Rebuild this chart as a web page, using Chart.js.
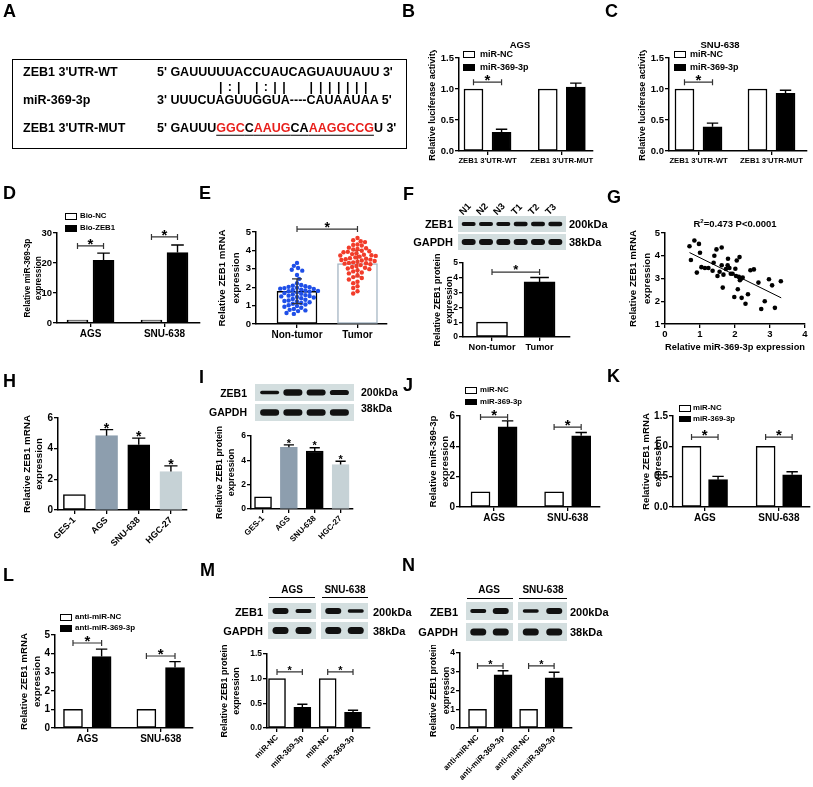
<!DOCTYPE html>
<html>
<head>
<meta charset="utf-8">
<title>ZEB1 / miR-369-3p</title>
<script src="https://cdn.jsdelivr.net/npm/chart.js@4.4.1/dist/chart.umd.min.js"></script>
<style>
  html, body { margin: 0; padding: 0; background: #fff; }
  #fig { position: relative; width: 813px; height: 787px; overflow: hidden;
         font-family: 'Liberation Sans', Arial, sans-serif; font-weight: bold; color: #000; }
  #fig canvas { position: absolute; }
  .t { position: absolute; white-space: pre; line-height: 1; }
  .lg { position: absolute; border: 1.3px solid #000; box-sizing: border-box; }
  .ln { position: absolute; background: #000; height: 1.2px; }
</style>
</head>
<body>
<div id="fig"></div>
<script>
// ---------------- data ----------------
// A: sequences
var wtSeq = "GAUUUUUACCUAUCAGUAUUAUU";
var pairing = "     |:| |:||  |||||||";
var mirSeq = "UUUCUAGUUGGUA----CAUAAUAA";

// B, C: luciferase
var lucGroups = ["ZEB1 3'UTR-WT", "ZEB1 3'UTR-MUT"];
var agsLucNC = [1.0, 1.0];
var agsLucMiR = [0.30, 1.03];
var agsLucErr = [0.05, 0.065];
var snuLucNC = [1.0, 1.0];
var snuLucMiR = [0.39, 0.93];
var snuLucErr = [0.06, 0.05];

// D: biotin pull-down
var cellGroups = ["AGS", "SNU-638"];
var bioNC = [1.0, 1.0];
var bioZEB1 = [20.9, 23.5];
var bioZEB1Err = [2.4, 2.5];

// E: tissues
var tissueGroups = ["Non-tumor", "Tumor"];
var tissueMean = [1.78, 3.28];
var tissueSD = [0.67, 0.72];
var nonTumorVals = [3.32, 3.16, 3.04, 2.95, 2.9, 2.66, 2.45, 2.22, 2.12, 2.08, 2.05, 2.02,
  2.0, 1.97, 1.95, 1.92, 1.9, 1.87, 1.85, 1.82, 1.8, 1.78, 1.75, 1.72, 1.68, 1.64, 1.6,
  1.57, 1.54, 1.52, 1.5, 1.47, 1.44, 1.4, 1.36, 1.32, 1.28, 1.25, 1.22, 1.18, 1.14, 1.1,
  1.06, 1.02, 0.98, 0.94, 0.88, 0.82, 0.77, 0.74, 0.7, 0.6, 0.55];
var tumorVals = [4.67, 4.55, 4.5, 4.45, 4.32, 4.3, 4.27, 4.15, 4.12, 4.08, 4.05, 3.98, 3.95,
  3.92, 3.9, 3.85, 3.8, 3.76, 3.74, 3.72, 3.7, 3.66, 3.62, 3.58, 3.55, 3.52, 3.5, 3.48, 3.45,
  3.42, 3.38, 3.35, 3.32, 3.3, 3.28, 3.25, 3.2, 3.15, 3.1, 3.06, 3.02, 2.98, 2.92, 2.86, 2.8,
  2.75, 2.65, 2.55, 2.5, 2.42, 2.3, 2.22, 2.05, 1.96, 1.78, 1.66];

// F: tissue western blot
var fLanes = ["N1", "N2", "N3", "T1", "T2", "T3"];
var fZeb1Band = [0.85, 0.85, 0.85, 1, 1, 1];
var fGapdhBand = [1, 1, 1, 1, 1, 1];
var fProtein = [1.0, 3.72];
var fProteinErr = [0, 0.3];

// G: correlation
var corrMiR = [0.70, 0.84, 0.97, 0.74, 1.0, 0.91, 1.04, 1.14, 1.24, 1.36, 1.41, 1.47, 1.62, 1.39,
  1.50, 1.56, 1.62, 1.74, 1.67, 1.80, 1.79, 1.84, 1.88, 1.93, 2.01, 2.05, 2.13, 2.03, 2.11,
  2.17, 2.22, 2.14, 1.65, 1.98, 2.08, 2.19, 2.30, 2.37, 2.44, 2.54, 2.67, 2.75, 2.85, 2.97,
  3.06, 3.14, 3.31];
var corrZEB1 = [4.42, 4.67, 4.52, 3.81, 4.13, 3.26, 3.50, 3.46, 3.46, 3.34, 4.0, 4.28, 4.36, 3.69,
  3.11, 3.30, 3.58, 3.42, 3.17, 3.87, 3.58, 3.46, 3.21, 3.21, 3.43, 3.79, 3.94, 3.11, 3.07,
  2.99, 3.04, 2.92, 2.60, 2.19, 2.53, 2.15, 1.89, 2.31, 3.36, 3.40, 2.82, 1.66, 2.00, 2.97,
  2.70, 1.71, 2.88];
var corrFit = [[0.70, 4.14], [3.32, 2.15]];

// H, I: cell lines
var cellLines = ["GES-1", "AGS", "SNU-638", "HGC-27"];
var hMRNA = [1.0, 4.85, 4.25, 2.51];
var hErr = [0, 0.39, 0.44, 0.37];
var iZeb1Band = [0.55, 1, 0.9, 0.8];
var iGapdhBand = [1, 1, 1, 1];
var iProtein = [1.0, 5.07, 4.77, 3.65];
var iErr = [0, 0.2, 0.27, 0.27];

// J, K, L
var jNC = [1.0, 1.0];
var jMiR = [5.28, 4.69];
var jErr = [0.4, 0.22];
var kNC = [1.0, 1.0];
var kMiR = [0.45, 0.53];
var kErr = [0.055, 0.05];
var lNC = [1.0, 1.0];
var lAnti = [3.84, 3.25];
var lErr = [0.4, 0.32];

// M, N
var mLabels = ["miR-NC", "miR-369-3p", "miR-NC", "miR-369-3p"];
var mZeb1Band = [[1, 0.65], [1, 0.55]];
var mGapdhBand = [[1, 1], [1, 1]];
var mProtein = [1.0, 0.42, 1.0, 0.32];
var mErr = [0, 0.06, 0, 0.04];
var nLabels = ["anti-miR-NC", "anti-miR-369-3p", "anti-miR-NC", "anti-miR-369-3p"];
var nZeb1Band = [[0.65, 1], [0.6, 1]];
var nGapdhBand = [[1, 1], [1, 1]];
var nProtein = [1.0, 2.83, 1.0, 2.68];
var nErr = [0, 0.22, 0, 0.29];

// ---------------- helpers ----------------
var fig = document.getElementById("fig");
var FONT = "'Liberation Sans', Arial, sans-serif";
Chart.defaults.font.family = FONT;
Chart.defaults.font.weight = "bold";
Chart.defaults.color = "#000";

function txt(x, y, s, size, align, html) {
  var d = document.createElement("div");
  d.className = "t";
  d.style.left = x + "px";
  d.style.top = y + "px";
  d.style.fontSize = size + "px";
  var dx = align === "right" ? "-100%" : align === "center" ? "-50%" : "0";
  d.style.transform = "translate(" + dx + ",-50%)";
  if (html) d.innerHTML = s; else d.textContent = s;
  fig.appendChild(d);
  return d;
}
function hline(x1, x2, y) {
  var d = document.createElement("div");
  d.className = "ln";
  d.style.left = x1 + "px"; d.style.top = y + "px"; d.style.width = (x2 - x1) + "px";
  fig.appendChild(d);
}
function legend(x, y0, dy, items, size, tx) {
  items.forEach(function (it, i) {
    var y = y0 + i * dy;
    var b = document.createElement("div");
    b.className = "lg";
    b.style.left = x + "px"; b.style.top = (y - 3) + "px";
    b.style.width = "12px"; b.style.height = "6.5px";
    b.style.background = it[0];
    fig.appendChild(b);
    txt(tx, y, it[1], size, "left");
  });
}
function mkCanvas(l, t, r, b) {
  l = Math.round(l); t = Math.round(t); r = Math.round(r); b = Math.round(b);
  var c = document.createElement("canvas");
  c.width = r - l; c.height = b - t;
  c.style.left = l + "px"; c.style.top = t + "px";
  c.style.width = (r - l) + "px"; c.style.height = (b - t) + "px";
  fig.appendChild(c);
  return { c: c, l: l, t: t, r: r, b: b };
}
function off(groups, d) { return groups.map(function (_, i) { return i + d; }); }

// beeswarm so dots don't overlap (pixel space -> axis units)
function swarm(vals, pxY, pxX, dia) {
  var placed = [];
  return vals.map(function (v, n) {
    var y = v * pxY;
    for (var k = 0; k < 80; k++) {
      var signs = k ? (n % 2 ? [-1, 1] : [1, -1]) : [1];
      for (var q = 0; q < signs.length; q++) {
        var x = signs[q] * k * dia / 4;
        var ok = placed.every(function (p) { return Math.hypot(p.x - x, p.y - y) >= dia; });
        if (ok) { placed.push({ x: x, y: y }); return x / pxX; }
      }
    }
    return 0;
  });
}

function drawStar(ctx, x, yb, size) {
  ctx.save();
  ctx.fillStyle = "#000";
  ctx.font = "bold " + size + "px " + FONT;
  ctx.textAlign = "center";
  ctx.textBaseline = "alphabetic";
  ctx.fillText("*", x, yb + size * 0.42);
  ctx.restore();
}

// error bars, significance brackets, stars
var marks = {
  id: "marks",
  afterDraw: function (chart) {
    var opt = chart.options.plugins.marks || {};
    var ctx = chart.ctx, xs = chart.scales.x, ys = chart.scales.y;
    var ss = opt.star || 12;
    ctx.save();
    chart.data.datasets.forEach(function (ds, i) {
      if (!ds.errs) return;
      chart.getDatasetMeta(i).data.forEach(function (el, j) {
        var e = ds.errs[j];
        if (!e) return;
        var v = ds.data[j].y;
        var top = ys.getPixelForValue(v + e);
        var low = ds.both ? ys.getPixelForValue(v - e) : el.y;
        var cw = ds.cap || el.width * 0.3;
        ctx.strokeStyle = Array.isArray(ds.errColor) ? ds.errColor[j] : (ds.errColor || "#000");
        ctx.lineWidth = 1.4;
        ctx.beginPath();
        ctx.moveTo(el.x, low); ctx.lineTo(el.x, top);
        ctx.moveTo(el.x - cw, top); ctx.lineTo(el.x + cw, top);
        if (ds.both) { ctx.moveTo(el.x - cw, low); ctx.lineTo(el.x + cw, low); }
        ctx.stroke();
        if (ds.stars) drawStar(ctx, el.x, top - 3, ss);
      });
    });
    (opt.brackets || []).forEach(function (b) {
      var x1 = xs.getPixelForValue(b[0]), x2 = xs.getPixelForValue(b[1]), y = ys.getPixelForValue(b[2]);
      ctx.strokeStyle = "#333";
      ctx.lineWidth = 1.2;
      ctx.beginPath();
      ctx.moveTo(x1, y); ctx.lineTo(x2, y);
      ctx.moveTo(x1, y - 3); ctx.lineTo(x1, y + 3);
      ctx.moveTo(x2, y - 3); ctx.lineTo(x2, y + 3);
      ctx.stroke();
      drawStar(ctx, (x1 + x2) / 2, y - 3, ss);
    });
    ctx.restore();
  }
};

function barSet(vals, pos, fill, stroke, bw, errs, extra) {
  return Object.assign({
    type: "bar",
    data: vals.map(function (v, i) { return { x: pos[i], y: v }; }),
    backgroundColor: fill, borderColor: stroke, borderWidth: 1.5, borderSkipped: false,
    barThickness: bw, grouped: false, errs: errs, order: 1
  }, extra || {});
}

function axisGrid() {
  return { drawOnChartArea: false, offset: false, tickLength: 4, color: "#000", lineWidth: 1.3 };
}

function barChart(p) {
  var cv = mkCanvas(p.tx - p.lh / 2, p.top, p.right, p.bottom);
  var al = p.area[0], at = p.area[1], ar = p.area[2], ab = p.area[3];
  var yW = al - cv.l, xH = cv.b - ab;
  return new Chart(cv.c, {
    type: "bar",
    data: { datasets: p.datasets },
    options: {
      responsive: false, animation: false, devicePixelRatio: 1,
      layout: { padding: { top: at - cv.t, right: cv.r - ar, left: 0, bottom: 0 } },
      plugins: { legend: { display: false }, tooltip: { enabled: false },
                 marks: { brackets: p.brackets || [], star: p.star } },
      scales: {
        x: {
          type: "linear", min: p.xr[0], max: p.xr[1], offset: false, bounds: "data",
          grid: axisGrid(),
          border: { color: "#000", width: 1.5 },
          ticks: { autoSkip: false, padding: 1, font: { size: p.f.x, weight: "bold" }, color: "#000",
                   maxRotation: p.rot ? 45 : 0, minRotation: p.rot ? 45 : 0,
                   callback: function (v, i) { return p.labels[i]; } },
          afterBuildTicks: function (s) { s.ticks = p.ticksAt.map(function (v) { return { value: v }; }); },
          afterFit: function (s) { s.height = xH; }
        },
        y: {
          min: p.y[0], max: p.y[1], bounds: "data",
          ticks: { stepSize: p.y[2], padding: 1, font: { size: p.f.tick, weight: "bold" }, color: "#000",
                   callback: function (v) { return v.toFixed(p.y[3] || 0); } },
          grid: axisGrid(),
          border: { color: "#000", width: 1.5 },
          title: { display: true, text: p.title, color: "#000", padding: 0,
                   font: { size: p.f.title, weight: "bold", lineHeight: p.lh + "px" } },
          afterFit: function (s) { s.width = yW; }
        }
      }
    },
    plugins: [marks]
  });
}

// ---------------- western blots (drawn first, underneath) ----------------
var blot = mkCanvas(0, 0, 813, 787);
var bctx = blot.c.getContext("2d");
function strip(x, y, w, h, bands, bw, bh, pad) {
  bctx.fillStyle = "#d3dedf";
  bctx.fillRect(x, y, w, h);
  var step = (w - 2 * pad) / bands.length;
  bands.forEach(function (k, i) {
    var cx = x + pad + step * (i + 0.5), cy = y + h / 2, hh = bh * k;
    bctx.save();
    bctx.filter = "blur(0.7px)";
    bctx.fillStyle = "#111";
    bctx.beginPath();
    bctx.roundRect(cx - bw / 2, cy - hh / 2, bw, hh, hh / 2);
    bctx.fill();
    bctx.restore();
  });
}
strip(458, 216, 108, 16, fZeb1Band, 14, 4.5, 2);
strip(458, 234, 108, 16, fGapdhBand, 14, 6, 2);
strip(255, 384, 99, 17, iZeb1Band, 19, 6.5, 3);
strip(255, 404, 99, 17, iGapdhBand, 19, 6.5, 3);
strip(268, 603, 48, 16, mZeb1Band[0], 16, 6, 1);
strip(321, 603, 47, 16, mZeb1Band[1], 16, 6, 1);
strip(268, 622, 48, 17, mGapdhBand[0], 16, 7, 1);
strip(321, 622, 47, 17, mGapdhBand[1], 16, 7, 1);
strip(466, 602, 47, 18, nZeb1Band[0], 16, 6, 1);
strip(518, 602, 49, 18, nZeb1Band[1], 16, 6, 1);
strip(466, 623, 47, 18, nGapdhBand[0], 16, 7, 1);
strip(518, 623, 49, 18, nGapdhBand[1], 16, 7, 1);

// ---------------- B ----------------
barChart({
  area: [459, 58, 593, 151], tx: 432, lh: 11, top: 50, bottom: 168, right: 600,
  xr: [-0.384, 1.42], ticksAt: [0, 1], labels: lucGroups,
  datasets: [
    barSet(agsLucNC, off(lucGroups, -0.189), "#fff", "#000", 19),
    barSet(agsLucMiR, off(lucGroups, 0.189), "#000", "#000", 19, agsLucErr)
  ],
  y: [0, 1.5, 0.5, 1], f: { tick: 9.5, x: 7.7, title: 9 }, title: "Relative luciferase activity",
  brackets: [[-0.189, 0.189, 1.11]], star: 15
});
// ---------------- C ----------------
barChart({
  area: [669, 58, 807, 151], tx: 642, lh: 11, top: 50, bottom: 168, right: 813,
  xr: [-0.404, 1.486], ticksAt: [0, 1], labels: lucGroups,
  datasets: [
    barSet(snuLucNC, off(lucGroups, -0.192), "#fff", "#000", 19),
    barSet(snuLucMiR, off(lucGroups, 0.192), "#000", "#000", 19, snuLucErr)
  ],
  y: [0, 1.5, 0.5, 1], f: { tick: 9.5, x: 7.7, title: 9 }, title: "Relative luciferase activity",
  brackets: [[-0.192, 0.192, 1.11]], star: 15
});
// ---------------- D ----------------
barChart({
  area: [57, 233, 200, 323], tx: 27, lh: 11, top: 222, bottom: 342, right: 206,
  xr: [-0.453, 1.48], ticksAt: [0, 1], labels: cellGroups,
  datasets: [
    barSet(bioNC, off(cellGroups, -0.176), "#fff", "#000", 21),
    barSet(bioZEB1, off(cellGroups, 0.176), "#000", "#000", 21, bioZEB1Err)
  ],
  y: [0, 30, 10, 0], f: { tick: 9.5, x: 10, title: 8.3 }, title: ["Relative miR-369-3p", "expression"],
  brackets: [[-0.176, 0.176, 25.7], [0.824, 1.176, 28.7]], star: 15
});
// ---------------- E ----------------
var eArea = [256, 232, 387, 324], eXr = [-0.678, 1.488], eY = [0, 5, 1, 0];
var ePxY = (eArea[3] - eArea[1]) / (eY[1] - eY[0]);
var ePxX = (eArea[2] - eArea[0]) / (eXr[1] - eXr[0]);
var ntJit = swarm(nonTumorVals, ePxY, ePxX, 4.2);
var tJit = swarm(tumorVals, ePxY, ePxX, 4.3);
barChart({
  area: eArea, tx: 222, lh: 14, top: 212, bottom: 342, right: 395,
  xr: eXr, ticksAt: [0, 1], labels: tissueGroups,
  datasets: [
    barSet(tissueMean, [0, 1], ["#fff", "#fff"], ["#000", "#a9b9c6"], 40, tissueSD,
      { both: true, cap: 5, errColor: ["#333", "#e0402e"] }),
    { type: "scatter", order: 0, pointRadius: 2.2, borderWidth: 0, backgroundColor: "#1f4fe8",
      data: nonTumorVals.map(function (v, i) { return { x: 0 + ntJit[i], y: v }; }) },
    { type: "scatter", order: 0, pointRadius: 2.2, borderWidth: 0, backgroundColor: "#f23c2a",
      data: tumorVals.map(function (v, i) { return { x: 1 + tJit[i], y: v }; }) }
  ],
  y: eY, f: { tick: 9.5, x: 10, title: 9.7 }, title: ["Relative ZEB1 mRNA", "expression"],
  brackets: [[0, 1, 5.16]], star: 14
});
// ---------------- F ----------------
barChart({
  area: [463, 263, 570, 337], tx: 438, lh: 12, top: 252, bottom: 355, right: 580,
  xr: [-0.61, 1.64], ticksAt: [0, 1], labels: tissueGroups,
  datasets: [barSet(fProtein, [0, 1], ["#fff", "#000"], "#000", 31, fProteinErr)],
  y: [0, 5, 1, 0], f: { tick: 8.5, x: 9.2, title: 9 }, title: ["Relative ZEB1 protein", "expression"],
  brackets: [[0, 1, 4.39]], star: 13
});
// ---------------- G ----------------
var gCv = mkCanvas(626, 225, 813, 353);
new Chart(gCv.c, {
  type: "scatter",
  data: { datasets: [
    { data: corrMiR.map(function (x, i) { return { x: x, y: corrZEB1[i] }; }),
      backgroundColor: "#000", borderWidth: 0, pointRadius: 2.3 },
    { type: "line", data: corrFit.map(function (p) { return { x: p[0], y: p[1] }; }),
      borderColor: "#000", borderWidth: 1, pointRadius: 0, fill: false }
  ] },
  options: {
    responsive: false, animation: false, devicePixelRatio: 1,
    layout: { padding: { top: 233 - 225, right: 813 - 805, left: 0, bottom: 0 } },
    plugins: { legend: { display: false }, tooltip: { enabled: false } },
    scales: {
      x: { min: 0, max: 4, ticks: { stepSize: 1, padding: 1, font: { size: 9.5, weight: "bold" }, color: "#000" },
           grid: axisGrid(), border: { color: "#000", width: 1.5 },
           title: { display: true, text: "Relative miR-369-3p expression", color: "#000", padding: 0,
                    font: { size: 9.3, weight: "bold", lineHeight: "11px" } },
           afterFit: function (s) { s.height = 353 - 324; } },
      y: { min: 1, max: 5, ticks: { stepSize: 1, padding: 1, font: { size: 9.5, weight: "bold" }, color: "#000" },
           grid: axisGrid(), border: { color: "#000", width: 1.5 },
           title: { display: true, text: ["Relative ZEB1 mRNA", "expression"], color: "#000", padding: 0,
                    font: { size: 9.7, weight: "bold", lineHeight: "14px" } },
           afterFit: function (s) { s.width = 665 - 626; } }
    }
  }
});
// ---------------- H ----------------
barChart({
  area: [58, 418, 187, 510], tx: 27, lh: 12, top: 405, bottom: 560, right: 195,
  xr: [-0.51, 3.5], ticksAt: [0, 1, 2, 3], labels: cellLines, rot: true,
  datasets: [barSet(hMRNA, [0, 1, 2, 3], ["#fff", "#8d9eae", "#000", "#c6d2d6"],
    ["#000", "#8d9eae", "#000", "#c6d2d6"], 22, hErr, { stars: true })],
  y: [0, 6, 2, 0], f: { tick: 10, x: 9, title: 9.8 }, title: ["Relative ZEB1 mRNA", "expression"], star: 14
});
// ---------------- I ----------------
barChart({
  area: [251, 436, 353, 509], tx: 220, lh: 12, top: 425, bottom: 555, right: 360,
  xr: [-0.465, 3.48], ticksAt: [0, 1, 2, 3], labels: cellLines, rot: true,
  datasets: [barSet(iProtein, [0, 1, 2, 3], ["#fff", "#8d9eae", "#000", "#c6d2d6"],
    ["#000", "#8d9eae", "#000", "#c6d2d6"], 17, iErr, { stars: true })],
  y: [0, 6, 2, 0], f: { tick: 8.5, x: 8, title: 9 }, title: ["Relative ZEB1 protein", "expression"], star: 11
});
// ---------------- J ----------------
barChart({
  area: [460, 416, 600, 507], tx: 433, lh: 12, top: 405, bottom: 525, right: 607,
  xr: [-0.463, 1.44], ticksAt: [0, 1], labels: cellGroups,
  datasets: [
    barSet(jNC, off(cellGroups, -0.184), "#fff", "#000", 19),
    barSet(jMiR, off(cellGroups, 0.184), "#000", "#000", 19, jErr)
  ],
  y: [0, 6, 2, 0], f: { tick: 10, x: 10, title: 9.7 }, title: ["Relative miR-369-3p", "expression"],
  brackets: [[-0.184, 0.184, 5.93], [0.816, 1.184, 5.27]], star: 15
});
// ---------------- K ----------------
barChart({
  area: [673, 416, 810, 507], tx: 647, lh: 11.5, top: 405, bottom: 525, right: 813,
  xr: [-0.429, 1.42], ticksAt: [0, 1], labels: cellGroups,
  datasets: [
    barSet(kNC, off(cellGroups, -0.179), "#fff", "#000", 19),
    barSet(kMiR, off(cellGroups, 0.179), "#000", "#000", 19, kErr)
  ],
  y: [0, 1.5, 0.5, 1], f: { tick: 10, x: 10, title: 9.7 }, title: ["Relative ZEB1 mRNA", "expression"],
  brackets: [[-0.179, 0.179, 1.153], [0.821, 1.179, 1.153]], star: 15
});
// ---------------- L ----------------
barChart({
  area: [55, 635, 193, 728], tx: 24, lh: 13, top: 625, bottom: 745, right: 200,
  xr: [-0.44, 1.44], ticksAt: [0, 1], labels: cellGroups,
  datasets: [
    barSet(lNC, off(cellGroups, -0.195), "#fff", "#000", 19),
    barSet(lAnti, off(cellGroups, 0.195), "#000", "#000", 19, lErr)
  ],
  y: [0, 5, 1, 0], f: { tick: 10, x: 10, title: 9.7 }, title: ["Relative ZEB1 mRNA", "expression"],
  brackets: [[-0.195, 0.195, 4.57], [0.805, 1.195, 3.87]], star: 15
});
// ---------------- M ----------------
barChart({
  area: [267, 654, 370, 728], tx: 225, lh: 12, top: 645, bottom: 787, right: 378,
  xr: [-0.395, 3.67], ticksAt: [0, 1, 2, 3], labels: mLabels, rot: true,
  datasets: [barSet(mProtein, [0, 1, 2, 3], ["#fff", "#000", "#fff", "#000"], "#000", 17, mErr)],
  y: [0, 1.5, 0.5, 1], f: { tick: 8.5, x: 8, title: 9 }, title: ["Relative ZEB1 protein", "expression"],
  brackets: [[0, 1, 1.136], [2, 3, 1.136]], star: 11
});
// ---------------- N ----------------
barChart({
  area: [460, 653, 572, 728], tx: 433, lh: 13, top: 645, bottom: 787, right: 580,
  xr: [-0.686, 3.7], ticksAt: [0, 1, 2, 3], labels: nLabels, rot: true,
  datasets: [barSet(nProtein, [0, 1, 2, 3], ["#fff", "#000", "#fff", "#000"], "#000", 18, nErr)],
  y: [0, 4, 1, 0], f: { tick: 8.5, x: 8, title: 9 }, title: ["Relative ZEB1 protein", "expression"],
  brackets: [[0, 1, 3.31], [2, 3, 3.31]], star: 11
});

// ---------------- text overlays ----------------
[["A", 3, 11], ["B", 402, 11], ["C", 605, 11], ["D", 3, 193], ["E", 199, 193], ["F", 403, 194],
 ["G", 607, 197], ["H", 3, 381], ["I", 199, 377], ["J", 403, 385], ["K", 607, 376],
 ["L", 3, 575], ["M", 200, 570], ["N", 402, 565]].forEach(function (p) { txt(p[1], p[2], p[0], 18, "left"); });

// A: sequence box
var boxA = document.createElement("div");
boxA.style.cssText = "position:absolute;left:12px;top:59px;width:395px;height:90px;border:1.5px solid #000;box-sizing:border-box;";
fig.appendChild(boxA);
txt(23, 72, "ZEB1 3'UTR-WT", 12.5, "left");
txt(157, 72, "5' " + wtSeq + " 3'", 12.5, "left");
txt(23, 100, "miR-369-3p", 12.5, "left");
txt(157, 100, "3' " + mirSeq + " 5'", 12.5, "left");
txt(23, 128, "ZEB1 3'UTR-MUT", 12.5, "left");
txt(157, 128, "5' GAUUU<span style=\"text-decoration:underline;text-decoration-color:#000;text-underline-offset:3px;\">" +
  "<span style=\"color:#e8201c\">GGC</span>C<span style=\"color:#e8201c\">AAUG</span>CA" +
  "<span style=\"color:#e8201c\">AAGGCCG</span></span>U 3'", 12.5, "left", true);
var mctx = document.createElement("canvas").getContext("2d");
mctx.font = "bold 12.5px " + FONT;
pairing.split("").forEach(function (ch, k) {
  if (ch === " ") return;
  var x = 157 + mctx.measureText("5' " + wtSeq.slice(0, k)).width + mctx.measureText(wtSeq[k]).width / 2;
  txt(x, 87, ch, 12.5, "center");
});

// B, C titles + legends
txt(520, 45, "AGS", 9.5, "center");
txt(720, 45, "SNU-638", 9.5, "center");
legend(463, 54, 13, [["#fff", "miR-NC"], ["#000", "miR-369-3p"]], 9, 480);
legend(674, 54, 13, [["#fff", "miR-NC"], ["#000", "miR-369-3p"]], 9, 690);
legend(65, 216, 12, [["#fff", "Bio-NC"], ["#000", "Bio-ZEB1"]], 7.8, 80);
legend(465, 390, 11.5, [["#fff", "miR-NC"], ["#000", "miR-369-3p"]], 7.8, 480);
legend(679, 408, 10.5, [["#fff", "miR-NC"], ["#000", "miR-369-3p"]], 7.8, 693);
legend(60, 617, 11, [["#fff", "anti-miR-NC"], ["#000", "anti-miR-369-3p"]], 8, 75);
txt(735, 223, "R<sup style=\"font-size:6px\">2</sup>=0.473 P&lt;0.0001", 9.5, "center", true);

// F blot labels
txt(453, 224, "ZEB1", 11, "right");
txt(453, 242, "GAPDH", 11, "right");
txt(569, 224, "200kDa", 11, "left");
txt(569, 242, "38kDa", 11, "left");
fLanes.forEach(function (s, i) {
  var cx = 460 + (104 / 6) * (i + 0.5);
  var d = document.createElement("div");
  d.className = "t";
  d.textContent = s;
  d.style.fontSize = "9.5px";
  d.style.left = (cx - 5) + "px";
  d.style.top = (216 - 9.5) + "px";
  d.style.transformOrigin = "0 100%";
  d.style.transform = "rotate(-45deg)";
  fig.appendChild(d);
});
// I blot labels
txt(247, 393, "ZEB1", 10.5, "right");
txt(247, 412, "GAPDH", 10.5, "right");
txt(361, 392, "200kDa", 10.5, "left");
txt(361, 408, "38kDa", 10.5, "left");
// M blot labels
txt(292, 590, "AGS", 10, "center");
txt(345, 590, "SNU-638", 10, "center");
hline(269, 315, 597); hline(322, 368, 597);
txt(263, 612, "ZEB1", 11, "right");
txt(263, 631, "GAPDH", 11, "right");
txt(373, 612, "200kDa", 11, "left");
txt(373, 631, "38kDa", 11, "left");
// N blot labels
txt(489, 590, "AGS", 10, "center");
txt(543, 590, "SNU-638", 10, "center");
hline(467, 513, 598); hline(519, 567, 598);
txt(458, 612, "ZEB1", 11, "right");
txt(458, 632, "GAPDH", 11, "right");
txt(570, 612, "200kDa", 11, "left");
txt(570, 632, "38kDa", 11, "left");
</script>
</body>
</html>
